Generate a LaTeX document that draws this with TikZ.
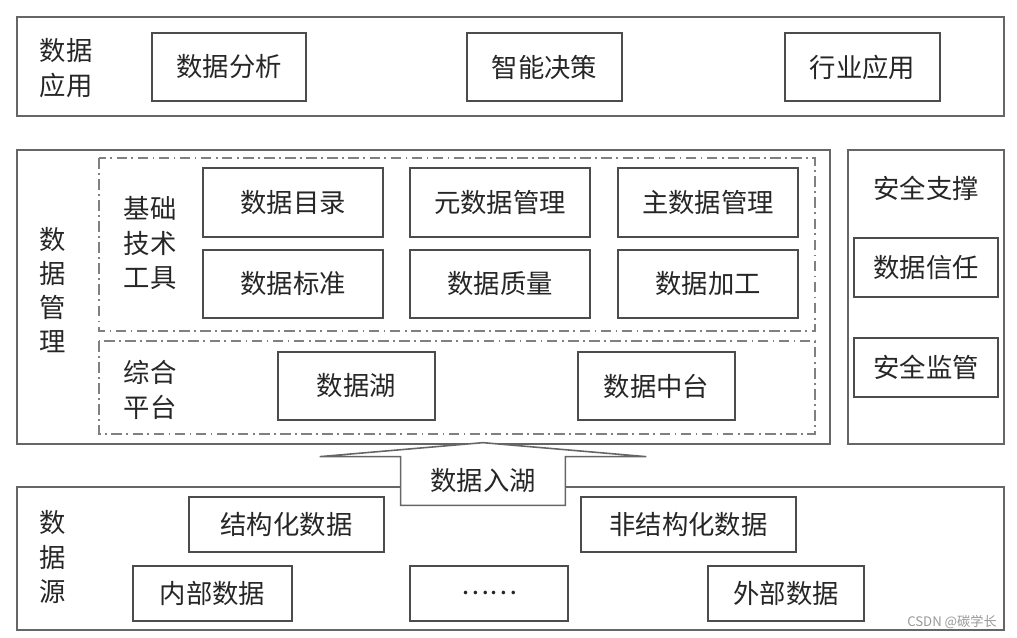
\documentclass[tikz,border=0pt]{standalone}
\usepackage{fontspec}
\setmainfont{Noto Sans CJK SC}
\usetikzlibrary{positioning}

\tikzset{
  frame/.style={draw=black!60, line width=0.9pt},
  dashframe/.style={draw=black!50, line width=0.7pt,
    dash pattern=on 6pt off 2.5pt on 1pt off 2.5pt},
  item/.style={draw=black!70, line width=0.9pt, fill=white, inner sep=0pt,
    font=\fontsize{15}{18}\selectfont, text=black!85},
  tag/.style={align=center, inner sep=0pt, text=black!85,
    font=\fontsize{15}{19.5}\selectfont},
}

\begin{document}
\begin{tikzpicture}[x=0.02cm, y=-0.02cm]
      \useasboundingbox (0,0) rectangle (1017,638);
      % data application
      \draw [frame] (17,17) rectangle (1004,116);
      \node [tag] (app) at (66,68) {数据\\应用};
      \node [item, minimum width=3.08cm, minimum height=1.36cm] (ana) at (229,67) {数据分析};
      \node [item, minimum width=3.10cm, minimum height=1.36cm] (dec) at (544.5,67) {智能决策};
      \node [item, minimum width=3.10cm, minimum height=1.36cm] (ind) at (862.5,67) {行业应用};
      % data management
      \draw [frame] (17,150) rectangle (830,444);
      \node [tag] (mgmt) at (53,290) {数\\据\\管\\理};
      \draw [dashframe] (99,158) rectangle (815,331);
      \draw [dashframe] (99,341) rectangle (815,434);
      \node [tag] (tools) at (150,243) {基础\\技术\\工具};
      \node [item, minimum width=3.6cm, minimum height=1.38cm] (cat) at (293,202.5) {数据目录};
      \node [item, minimum width=3.6cm, minimum height=1.38cm] (meta) at (500,202.5) {元数据管理};
      \node [item, minimum width=3.6cm, minimum height=1.38cm] (master) at (708,202.5) {主数据管理};
      \node [item, minimum width=3.6cm, minimum height=1.36cm] (std) at (293,284) {数据标准};
      \node [item, minimum width=3.6cm, minimum height=1.36cm] (qual) at (500,284) {数据质量};
      \node [item, minimum width=3.6cm, minimum height=1.36cm] (proc) at (708,284) {数据加工};
      \node [tag] (plat) at (150,390) {综合\\平台};
      \node [item, minimum width=3.14cm, minimum height=1.36cm] (lake) at (356.5,386) {数据湖};
      \node [item, minimum width=3.14cm, minimum height=1.36cm] (mid) at (656.5,386) {数据中台};
      % security
      \draw [frame] (848,150) rectangle (1004,444);
      \node [tag] (sec) at (926,188) {安全支撑};
      \node [item, minimum width=2.88cm, minimum height=1.18cm] (trust) at (926,267.5) {数据信任};
      \node [item, minimum width=2.88cm, minimum height=1.18cm] (sup) at (926,367.5) {安全监管};
      % data source
      \draw [frame] (17,487) rectangle (1004,630);
      \node [tag] (src) at (53,557) {数\\据\\源};
      \node [item, minimum width=3.9cm, minimum height=1.1cm] (struct) at (286.5,524.5) {结构化数据};
      \node [item, minimum width=4.3cm, minimum height=1.1cm] (unstruct) at (688.5,524.5) {非结构化数据};
      \node [item, minimum width=3.18cm, minimum height=1.1cm] (inner) at (212.5,593.5) {内部数据};
      \node [item, minimum width=3.16cm, minimum height=1.1cm] (more) at (489,593.5) {……};
      \node [item, minimum width=3.12cm, minimum height=1.1cm] (outer) at (786,593.5) {外部数据};
      % ingest arrow
      \node [tag, minimum width=3.28cm, minimum height=0.96cm] (ingest) at (483,481) {};
      \draw [frame, fill=white] (ingest.south west) -- (ingest.north west) -- ++(-81,0)
         -- ([yshift=0.28cm]ingest.north) -- ([xshift=1.62cm]ingest.north east)
         -- (ingest.north east) -- (ingest.south east) -- cycle;
      \node [tag] (ingestlabel) at (ingest.center) {数据入湖};
      \node [inner sep=0pt, text=black!40, font=\fontsize{7.5}{8}\selectfont] (mark) at (952,622) {CSDN @碳学长};
   \end{tikzpicture}
\end{document}
